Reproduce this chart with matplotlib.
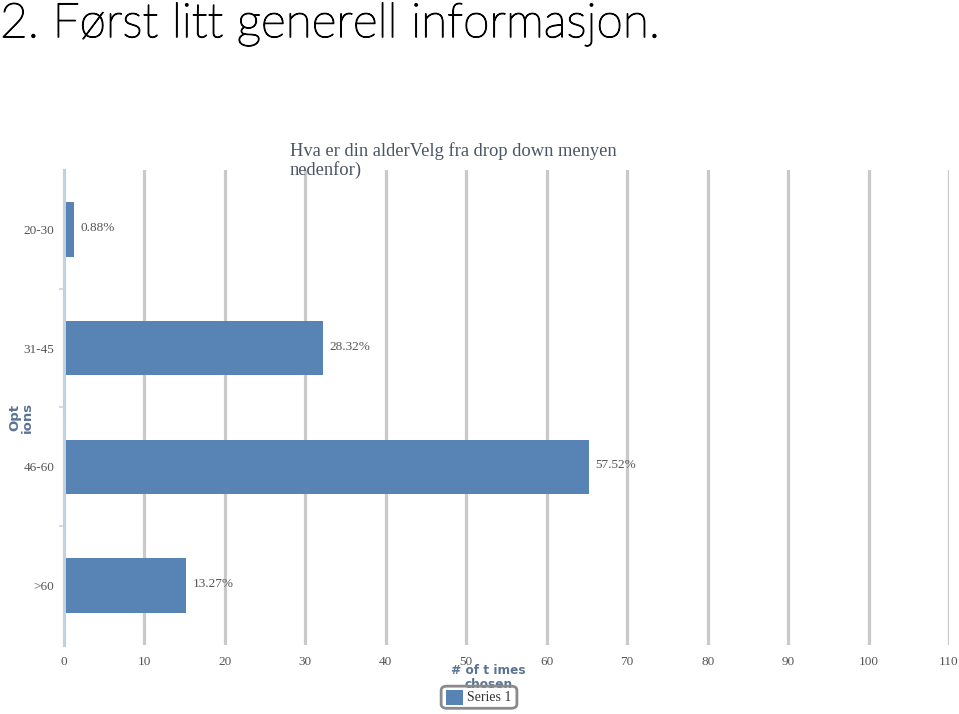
import matplotlib.pyplot as plt
import matplotlib.patheffects as pe
from matplotlib.patches import FancyBboxPatch, Rectangle

# data
categories = ["20-30", "31-45", "46-60", ">60"]
counts = [1, 32, 65, 15]
pct_labels = ["0.88%", "28.32%", "57.52%", "13.27%"]
x_ticks = list(range(0, 111, 10))

bar_color = "#5783b5"
grid_color = "#c9c9c9"
axis_text = "#5b7495"
tick_text = "#555555"
serif = ["Liberation Serif", "DejaVu Serif"]

fig = plt.figure(figsize=(9.59, 7.14), dpi=100)

# slide heading (light font, thickened a little)
fig.text(0.0, 0.948, "2. Først litt generell informasjon.", ha="left", va="baseline",
         fontsize=34.5, family=["Lato", "DejaVu Sans"], fontweight="light", color="#000000",
         path_effects=[pe.withStroke(linewidth=0.9, foreground="#000000")])

ax = fig.add_axes([0.0667, 0.0966, 0.9229, 0.6654])

ypos = list(range(len(categories)))
ax.barh(ypos, counts, height=0.46, color=bar_color, zorder=3, left=0.2)

for y, c, lab in zip(ypos, counts, pct_labels):
    ax.annotate(lab, xy=(c, y), xytext=(6, 1), textcoords="offset points",
                ha="left", va="center", fontsize=9.5, family=serif, color=tick_text)

ax.set_xlim(0, 110)
ax.set_ylim(3.5, -0.5)
ax.set_xticks(x_ticks)
ax.set_xticklabels([str(t) for t in x_ticks], family=serif, fontsize=9.5, color=tick_text)
ax.set_yticks(ypos)
ax.set_yticklabels(categories, family=serif, fontsize=9.5, color=tick_text)
ax.tick_params(axis="x", length=0, pad=8)
ax.tick_params(axis="y", length=0, pad=7)

# vertical grid lines
for t in x_ticks[1:]:
    ax.axvline(t, color=grid_color, lw=2.3, zorder=1)

# small marks between categories on the left axis
for b in [0.5, 1.5, 2.5]:
    ax.plot([-0.5, 0], [b, b], color="#d5dbe3", lw=1.5, clip_on=False, zorder=2)

for s in ["top", "right", "bottom"]:
    ax.spines[s].set_visible(False)
ax.spines["left"].set_color("#c3d0df")
ax.spines["left"].set_linewidth(2.3)

# chart title
fig.text(0.302, 0.775, "Hva er din alderVelg fra drop down menyen\nnedenfor)",
         ha="left", va="center", fontsize=13.3, family=serif, color="#4b5563",
         linespacing=1.1)

# axis titles
fig.text(0.022, 0.415, "Opt\nions", rotation=90, ha="center", va="center",
         fontsize=9.5, fontweight="bold", color=axis_text, linespacing=0.95)
fig.text(0.509, 0.051, "# of t imes\nchosen", ha="center", va="center",
         fontsize=8.7, fontweight="bold", color=axis_text, linespacing=1.15)

# legend box
box = FancyBboxPatch((0.460, 0.008), 0.079, 0.031, boxstyle="round,pad=0.0,rounding_size=0.006",
                     transform=fig.transFigure, facecolor="none", edgecolor="#8a8a8a",
                     lw=2, zorder=5)
fig.add_artist(box)
fig.add_artist(Rectangle((0.465, 0.013), 0.018, 0.021, transform=fig.transFigure,
                         facecolor=bar_color, edgecolor="none"))
fig.text(0.487, 0.023, "Series 1", ha="left", va="center", fontsize=10,
         family=serif, color="#333333")

fig.savefig("out.png", dpi=100)
